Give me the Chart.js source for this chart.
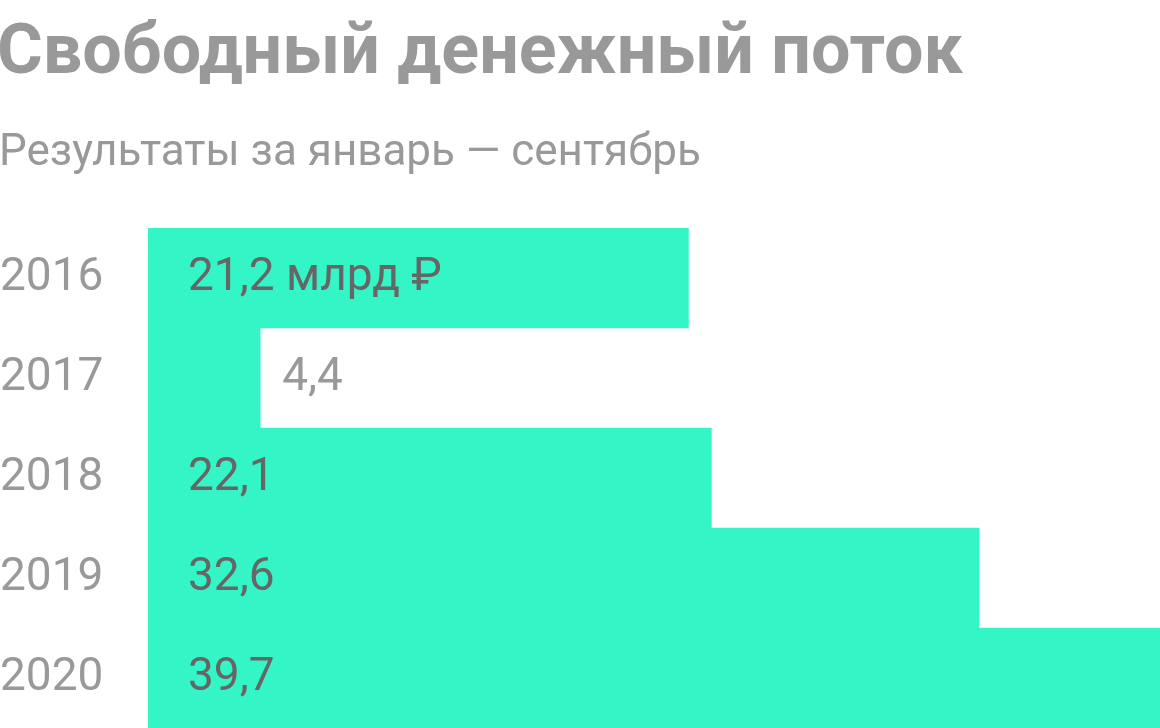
<!DOCTYPE html>
<html>
<head>
<meta charset="utf-8">
<script src="https://cdn.jsdelivr.net/npm/chart.js@4"></script>
<style>
  html, body { margin: 0; padding: 0; background: #fff; overflow: hidden; }
  canvas { display: block; }
</style>
</head>
<body>
<canvas id="fcf" width="1160" height="728"></canvas>
<script>
var years = ["2016", "2017", "2018", "2019", "2020"];
var cashFlow = [21.2, 4.4, 22.1, 32.6, 39.7];
var valueLabels = ["21,2 млрд ₽", "4,4", "22,1", "32,6", "39,7"];

var titleText = "Свободный денежный поток";
var subtitleText = "Результаты за январь — сентябрь";

var headerPlugin = {
  id: "header",
  afterDraw: function(chart) {
    var ctx = chart.ctx;
    ctx.save();
    ctx.textAlign = "left";
    ctx.textBaseline = "alphabetic";
    ctx.fillStyle = "#999999";
    ctx.font = "bold 70px Roboto";
    ctx.fillText(titleText, -3, 73);
    ctx.font = "400 44px Roboto";
    ctx.fillText(subtitleText, -1, 165);
    ctx.restore();
  }
};

var valuePlugin = {
  id: "values",
  afterDatasetsDraw: function(chart) {
    var ctx = chart.ctx;
    var meta = chart.getDatasetMeta(0);
    ctx.save();
    ctx.font = "400 46px Roboto";
    ctx.textBaseline = "middle";
    ctx.textAlign = "left";
    meta.data.forEach(function(bar, i) {
      var text = valueLabels[i];
      var w = ctx.measureText(text).width;
      var inside = bar.base + 40;
      if (inside + w + 20 < bar.x) {
        ctx.fillStyle = "#666666";
        ctx.fillText(text, inside, bar.y);
      } else {
        ctx.fillStyle = "#999999";
        ctx.fillText(text, bar.x + 22, bar.y);
      }
    });
    ctx.restore();
  }
};

var chart = new Chart(document.getElementById("fcf"), {
  type: "bar",
  data: {
    labels: years,
    datasets: [{
      data: cashFlow,
      backgroundColor: "#33F5C6",
      borderWidth: 0,
      barPercentage: 1,
      categoryPercentage: 1
    }]
  },
  plugins: [headerPlugin, valuePlugin],
  options: {
    indexAxis: "y",
    responsive: false,
    animation: false,
    layout: { padding: { top: 228, left: 0, right: 0, bottom: 0 } },
    plugins: {
      legend: { display: false },
      tooltip: { enabled: false }
    },
    scales: {
      x: {
        display: false,
        min: 0,
        max: 39.7
      },
      y: {
        grid: { display: false },
        border: { display: false },
        afterFit: function(scale) {
          scale.width = 148;
          scale.paddingTop = 0;
          scale.paddingBottom = 0;
        },
        ticks: {
          crossAlign: "far",
          padding: 0,
          color: "#999999",
          font: { family: "Roboto", size: 46, weight: "400" }
        }
      }
    }
  }
});
</script>
</body>
</html>
